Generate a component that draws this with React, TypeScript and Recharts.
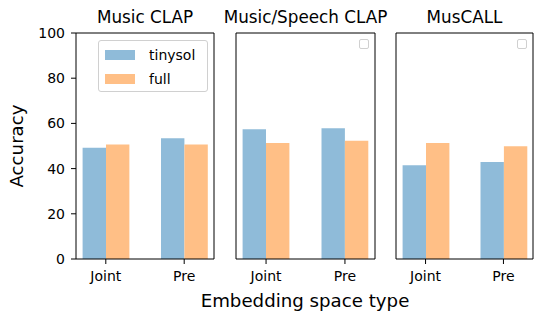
import React from "react";
import { BarChart, Bar, XAxis, YAxis, Legend } from "recharts";

const categories = ["Joint", "Pre"];
const seriesNames = ["tinysol", "full"];
const panelTitles = ["Music CLAP", "Music/Speech CLAP", "MusCALL"];
const tinysolValues = [
  [49.2, 53.4],
  [57.4, 57.8],
  [41.5, 42.9],
];
const fullValues = [
  [50.7, 50.7],
  [51.3, 52.3],
  [51.3, 49.9],
];
const yTicks = [0, 20, 40, 60, 80, 100];

const FONT = "'DejaVu Sans', sans-serif";
const BLUE = "#8fbbd9";
const ORANGE = "#ffbf86";

const panels = [
  { left: 0, width: 220, yAxisW: 76, right: 5 },
  { left: 230, width: 150, yAxisW: 6, right: 4 },
  { left: 390, width: 144, yAxisW: 6, right: 0 },
];

const FullLegend = (props: any) => {
  const items = [...(props.payload || [])].sort(
    (a: any, b: any) => seriesNames.indexOf(a.value) - seriesNames.indexOf(b.value)
  );
  return (
    <div style={{
      width: 110, height: 52, boxSizing: "border-box", border: "1px solid #d0d0d0",
      borderRadius: 3, background: "rgba(255,255,255,0.8)", fontFamily: FONT, fontSize: 14,
      paddingTop: 2,
    }}>
      {items.map((p: any) => (
        <div key={p.value} style={{ display: "flex", alignItems: "center", height: 24 }}>
          <span style={{ display: "inline-block", width: 30, height: 10, marginLeft: 6, background: p.color }} />
          <span style={{ marginLeft: 14, color: "#000" }}>{p.value}</span>
        </div>
      ))}
    </div>
  );
};

const EmptyLegend = () => (
  <div style={{ width: 10, height: 10, boxSizing: "border-box", border: "1px solid #d0d0d0", borderRadius: 2, background: "#fff" }} />
);

function Panel({ idx }: { idx: number }) {
  const cfg = panels[idx];
  const data = categories.map((c, i) => ({
    cat: c,
    tinysol: tinysolValues[idx][i],
    full: fullValues[idx][i],
  }));
  const plotRight = cfg.width - cfg.right - 1;
  return (
    <div style={{ position: "absolute", left: cfg.left, top: 0 }}>
      <BarChart width={cfg.width} height={314} data={data}
        margin={{ top: 32, right: cfg.right, bottom: 25, left: 0 }}
        barGap={0} barSize={23.4}>
        <XAxis dataKey="cat" padding={{ left: -9.4, right: -9.4 }} height={30}
          tickSize={5} tickMargin={7} tickLine={{ stroke: "#000" }}
          axisLine={{ stroke: "#000" }}
          tick={{ fill: "#000", fontSize: 14, fontFamily: FONT }} />
        <XAxis xAxisId="top" orientation="top" dataKey="cat" height={1}
          tick={false} tickLine={false} axisLine={{ stroke: "#000" }} />
        <YAxis domain={[0, 100]} ticks={yTicks} width={cfg.yAxisW}
          tick={idx === 0 ? { fill: "#000", fontSize: 14, fontFamily: FONT } : false}
          tickLine={idx === 0 ? { stroke: "#000" } : false}
          tickSize={5} tickMargin={6} axisLine={{ stroke: "#000" }} />
        <YAxis yAxisId="right" orientation="right" width={1} domain={[0, 100]}
          tick={false} tickLine={false} axisLine={{ stroke: "#000" }} />
        {idx === 0 ? (
          <Legend content={<FullLegend />} layout="vertical" align="center" verticalAlign="middle"
            wrapperStyle={{ left: 98, top: 40, width: 110 }} />
        ) : (
          <Legend content={<EmptyLegend />} layout="vertical" align="center" verticalAlign="middle"
            wrapperStyle={{ left: plotRight - 16, top: 39, width: 10 }} />
        )}
        <Bar dataKey="tinysol" name="tinysol" fill={BLUE} isAnimationActive={false} />
        <Bar dataKey="full" name="full" fill={ORANGE} isAnimationActive={false} />
      </BarChart>
    </div>
  );
}

export default function App() {
  const titleX = [145, 305.5, 464.5];
  return (
    <div style={{ position: "absolute", left: 0, top: 0, width: 534, height: 314, background: "#fff", overflow: "hidden" }}>
      {panels.map((_, i) => <Panel key={i} idx={i} />)}
      <svg width={534} height={314} style={{ position: "absolute", left: 0, top: 0, pointerEvents: "none" }}>
        {panelTitles.map((t, i) => (
          <text key={t} x={titleX[i]} y={23} textAnchor="middle" fontFamily={FONT} fontSize={16.8} fill="#000">{t}</text>
        ))}
        <text x={305} y={307} textAnchor="middle" fontFamily={FONT} fontSize={18.2} fill="#000">Embedding space type</text>
        <text transform="translate(23,146) rotate(-90)" textAnchor="middle" fontFamily={FONT} fontSize={18.2} fill="#000">Accuracy</text>
      </svg>
    </div>
  );
}
